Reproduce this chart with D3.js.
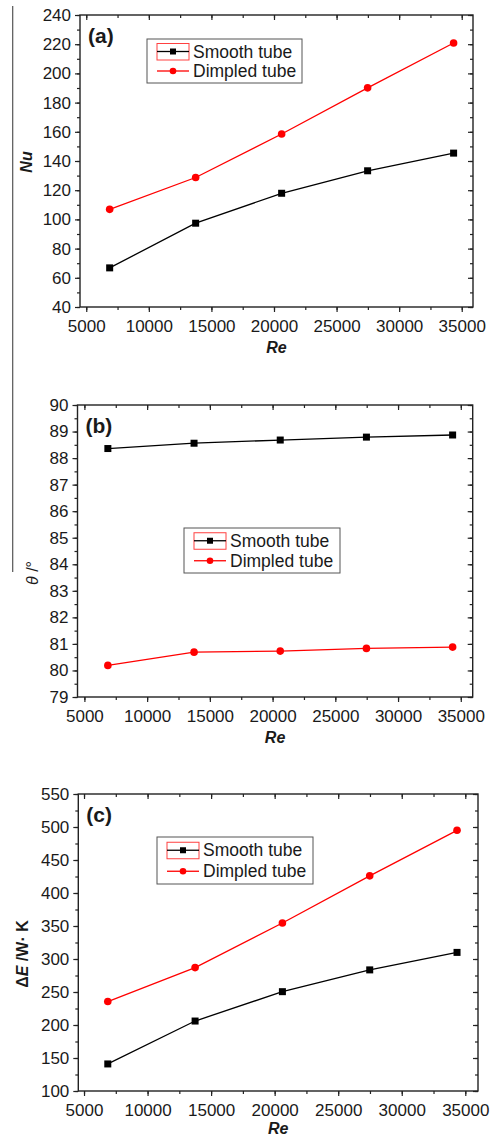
<!DOCTYPE html>
<html>
<head>
<meta charset="utf-8">
<script src="https://cdn.jsdelivr.net/npm/d3@7"></script>
<style>
  body { margin: 0; background: #fff; }
  text { font-family: "Liberation Sans", Arial, sans-serif; fill: #1a1a1a; }
</style>
</head>
<body>
<div id="canvas"></div>
<script>
/**
 * Data
 */
const reValues = [6870, 13740, 20610, 27480, 34350];
const seriesNames = ["Smooth tube", "Dimpled tube"];
const seriesColors = ["#000000", "#ff0000"];

const nuSmooth = [66.8, 97.4, 117.9, 133.3, 145.4];
const nuDimpled = [106.9, 128.7, 158.5, 190.1, 220.8];

const thetaSmooth = [88.36, 88.56, 88.68, 88.79, 88.87];
const thetaDimpled = [80.19, 80.69, 80.73, 80.83, 80.88];

const exSmooth = [141, 206, 250.5, 283.5, 310];
const exDimpled = [235.5, 287, 354.5, 426, 495];

const xTicks = [5000, 10000, 15000, 20000, 25000, 30000, 35000];
const nuTicks = d3.range(40, 241, 20);
const thetaTicks = d3.range(79, 91, 1);
const exTicks = d3.range(100, 551, 50);

/**
 * Layout of the three panels (pixels)
 */
const panels = [
    { tag: "(a)", xDomain: [4500, 35900], yDomain: [40, 240], left: 80, right: 473, top: 15, bottom: 307,
      yTicks: nuTicks, yMinor: 10, series: [nuSmooth, nuDimpled], reOffset: 45.5,
      legend: { x: 147, y: 39, w: 155, h: 44 }, title: "nu", titleX: 31.5, titleY: 162 },
    { tag: "(b)", xDomain: [4450, 35950], yDomain: [79, 90], left: 77.5, right: 472.7, top: 405, bottom: 697,
      yTicks: thetaTicks, yMinor: 0.5, series: [thetaSmooth, thetaDimpled], reOffset: 46,
      legend: { x: 184, y: 528, w: 156, h: 45 }, title: "theta", titleX: 38, titleY: 573 },
    { tag: "(c)", xDomain: [4550, 36000], yDomain: [100, 550], left: 78.3, right: 478, top: 794, bottom: 1091,
      yTicks: exTicks, yMinor: 25, series: [exSmooth, exDimpled], reOffset: 42.5,
      legend: { x: 157, y: 837, w: 156, h: 47 }, title: "ex", titleX: 28, titleY: 954 }
];

const svg = d3.select("#canvas")
    .append("svg")
    .attr("width", 493)
    .attr("height", 1138);

// stray frame line on the left of the original figure
svg.append("line")
    .attr("x1", 12.7).attr("x2", 12.7)
    .attr("y1", 6).attr("y2", 572)
    .attr("stroke", "#555")
    .attr("stroke-width", 1.2);

function drawPanel(p) {
    const g = svg.append("g");
    const x = d3.scaleLinear().domain(p.xDomain).range([p.left, p.right]);
    const y = d3.scaleLinear().domain(p.yDomain).range([p.bottom, p.top]);

    const xMinorTicks = d3.range(5000, 36000, 2500).filter(v => v >= p.xDomain[0] && v <= p.xDomain[1]);
    const yMinorTicks = d3.range(p.yDomain[0], p.yDomain[1] + 1e-9, p.yMinor);

    // bottom axis (outward ticks)
    g.append("g")
        .attr("transform", "translate(0," + p.bottom + ")")
        .call(d3.axisBottom(x).tickValues(xMinorTicks).tickSize(3).tickFormat(""))
        .call(a => a.select(".domain").remove());
    g.append("g")
        .attr("transform", "translate(0," + p.bottom + ")")
        .call(d3.axisBottom(x).tickValues(xTicks).tickSize(5).tickPadding(8).tickFormat(d3.format("d")))
        .call(a => a.select(".domain").remove())
        .call(a => a.selectAll("text").attr("font-size", 17).attr("dy", "0.71em"));

    // top axis mirror (inward ticks)
    g.append("g")
        .attr("transform", "translate(0," + p.top + ")")
        .call(d3.axisBottom(x).tickValues(xMinorTicks).tickSize(3).tickFormat(""))
        .call(a => a.select(".domain").remove());
    g.append("g")
        .attr("transform", "translate(0," + p.top + ")")
        .call(d3.axisBottom(x).tickValues(xTicks).tickSize(5).tickFormat(""))
        .call(a => a.select(".domain").remove());

    // left axis (outward ticks)
    g.append("g")
        .attr("transform", "translate(" + p.left + ",0)")
        .call(d3.axisLeft(y).tickValues(yMinorTicks).tickSize(3).tickFormat(""))
        .call(a => a.select(".domain").remove());
    g.append("g")
        .attr("transform", "translate(" + p.left + ",0)")
        .call(d3.axisLeft(y).tickValues(p.yTicks).tickSize(5).tickPadding(4).tickFormat(d3.format("d")))
        .call(a => a.select(".domain").remove())
        .call(a => a.selectAll("text").attr("font-size", 17));

    // right axis mirror (inward ticks)
    g.append("g")
        .attr("transform", "translate(" + p.right + ",0)")
        .call(d3.axisLeft(y).tickValues(yMinorTicks).tickSize(3).tickFormat(""))
        .call(a => a.select(".domain").remove());
    g.append("g")
        .attr("transform", "translate(" + p.right + ",0)")
        .call(d3.axisLeft(y).tickValues(p.yTicks).tickSize(5).tickFormat(""))
        .call(a => a.select(".domain").remove());

    g.selectAll(".tick line").attr("stroke", "#222").attr("stroke-width", 1.2);

    // frame
    g.append("rect")
        .attr("x", p.left).attr("y", p.top)
        .attr("width", p.right - p.left).attr("height", p.bottom - p.top)
        .attr("fill", "none")
        .attr("stroke", "#222")
        .attr("stroke-width", 1.4);

    // series
    p.series.forEach((vals, i) => {
        const pts = reValues.map((r, k) => ({ re: r, v: vals[k] }));
        g.append("path")
            .datum(pts)
            .attr("fill", "none")
            .attr("stroke", seriesColors[i])
            .attr("stroke-width", 1.3)
            .attr("d", d3.line().x(d => x(d.re)).y(d => y(d.v)));
        if (i === 0) {
            g.selectAll(null).data(pts).enter().append("rect")
                .attr("x", d => x(d.re) - 3.5).attr("y", d => y(d.v) - 3.5)
                .attr("width", 7).attr("height", 7)
                .attr("fill", seriesColors[i]);
        } else {
            g.selectAll(null).data(pts).enter().append("circle")
                .attr("cx", d => x(d.re)).attr("cy", d => y(d.v))
                .attr("r", 3.8)
                .attr("fill", seriesColors[i]);
        }
    });

    // panel tag
    g.append("text")
        .attr("x", p.left + 8)
        .attr("y", p.top + 28)
        .attr("font-size", 21)
        .attr("font-weight", "bold")
        .text(p.tag);

    // x title
    g.append("text")
        .attr("x", (p.left + p.right) / 2)
        .attr("y", p.bottom + p.reOffset)
        .attr("text-anchor", "middle")
        .attr("font-size", 16)
        .attr("font-weight", "bold")
        .attr("font-style", "italic")
        .text("Re");

    // y title
    const yt = g.append("text")
        .attr("transform", "translate(" + p.titleX + "," + p.titleY + ") rotate(-90)")
        .attr("text-anchor", "middle")
        .attr("font-size", 16);
    if (p.title === "nu") {
        yt.attr("font-weight", "bold").attr("font-style", "italic").text("Nu");
    } else if (p.title === "theta") {
        yt.append("tspan").attr("font-style", "italic").text("θ");
        yt.append("tspan").text(" /°");
    } else {
        yt.attr("font-weight", "bold");
        yt.append("tspan").text("Δ");
        yt.append("tspan").attr("font-style", "italic").text("E");
        yt.append("tspan").text(" /W· K");
    }

    // legend
    const lg = p.legend;
    const leg = g.append("g");
    leg.append("rect")
        .attr("x", lg.x).attr("y", lg.y)
        .attr("width", lg.w).attr("height", lg.h)
        .attr("fill", "#fff")
        .attr("stroke", "#555")
        .attr("stroke-width", 1);
    const rowH = lg.h / 2;
    seriesNames.forEach((name, i) => {
        const cy = lg.y + rowH * (i + 0.5) + (i === 0 ? 1.5 : -1);
        if (i === 0) {
            leg.append("rect")
                .attr("x", lg.x + 10).attr("y", cy - 8)
                .attr("width", 32).attr("height", 16.5)
                .attr("fill", "none")
                .attr("stroke", "#ff4040")
                .attr("stroke-width", 1);
        }
        leg.append("line")
            .attr("x1", lg.x + 10).attr("x2", lg.x + 42)
            .attr("y1", cy).attr("y2", cy)
            .attr("stroke", seriesColors[i])
            .attr("stroke-width", 1.3);
        if (i === 0) {
            leg.append("rect")
                .attr("x", lg.x + 26 - 3).attr("y", cy - 3)
                .attr("width", 6).attr("height", 6)
                .attr("fill", seriesColors[i]);
        } else {
            leg.append("circle")
                .attr("cx", lg.x + 26).attr("cy", cy)
                .attr("r", 3.3)
                .attr("fill", seriesColors[i]);
        }
        leg.append("text")
            .attr("x", lg.x + 46)
            .attr("y", cy + 6)
            .attr("font-size", 17.5)
            .text(name);
    });
}

panels.forEach(drawPanel);
</script>
</body>
</html>
